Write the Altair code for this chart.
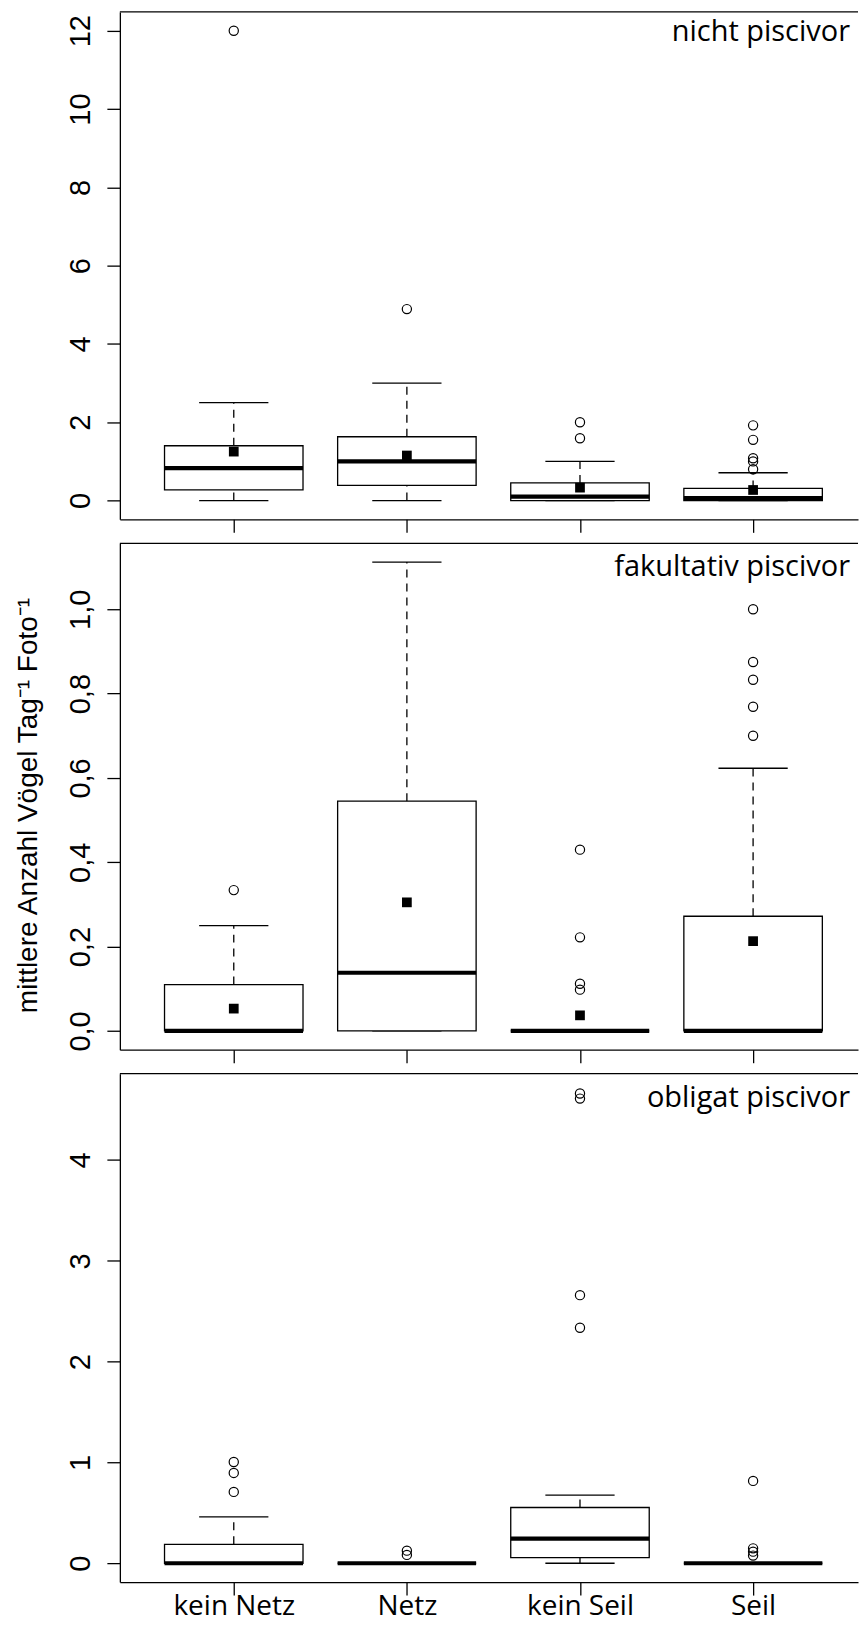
import altair as alt
import pandas as pd

categories = ["kein Netz", "Netz", "kein Seil", "Seil"]
positions = [1, 2, 3, 4]

# ---- panel 1: nicht piscivor ----
p1_q1 = [0.27, 0.39, 0.0, 0.0]
p1_med = [0.83, 1.0, 0.10, 0.06]
p1_q3 = [1.40, 1.63, 0.45, 0.31]
p1_wlo = [0.0, 0.0, 0.0, 0.0]
p1_whi = [2.50, 3.0, 1.0, 0.71]
p1_mean = [1.25, 1.15, 0.33, 0.27]
p1_out_pos = [1, 2, 3, 3, 4, 4, 4, 4, 4]
p1_out_val = [12.0, 4.89, 2.0, 1.59, 1.92, 1.55, 1.08, 1.0, 0.80]

# ---- panel 2: fakultativ piscivor ----
p2_q1 = [0.0, 0.0, 0.0, 0.0]
p2_med = [0.0, 0.138, 0.0, 0.0]
p2_q3 = [0.11, 0.545, 0.0, 0.272]
p2_wlo = [0.0, 0.0, 0.0, 0.0]
p2_whi = [0.25, 1.112, 0.0, 0.623]
p2_mean = [0.053, 0.305, 0.037, 0.213]
p2_out_pos = [1, 3, 3, 3, 3, 4, 4, 4, 4, 4]
p2_out_val = [0.334, 0.43, 0.222, 0.112, 0.098, 1.0, 0.875, 0.833, 0.769, 0.70]

# ---- panel 3: obligat piscivor ----
p3_q1 = [0.0, 0.0, 0.056, 0.0]
p3_med = [0.0, 0.0, 0.244, 0.0]
p3_q3 = [0.188, 0.0, 0.553, 0.0]
p3_wlo = [0.0, 0.0, 0.0, 0.0]
p3_whi = [0.461, 0.0, 0.675, 0.0]
p3_out_pos = [1, 1, 1, 2, 2, 3, 3, 3, 3, 4, 4, 4, 4]
p3_out_val = [1.005, 0.896, 0.708, 0.125, 0.083, 4.66, 4.61, 2.66, 2.336, 0.817, 0.148, 0.115, 0.076]

panel_titles = ["nicht piscivor", "fakultativ piscivor", "obligat piscivor"]
y_title = "mittlere Anzahl Vögel Tag⁻¹ Foto⁻¹"

W = 739
XDOM = [0.342, 4.606]
xscale = alt.Scale(domain=XDOM, nice=False, zero=False)

label_expr_x = "['" + "','".join(categories) + "'][datum.value - 1]"


def make_panel(q1, med, q3, wlo, whi, mean, out_pos, out_val, ydom, yvals, ylabel_expr,
               title, height, title_y, show_xlabels, show_ytitle):
    stats = pd.DataFrame({"pos": positions, "q1": q1, "med": med, "q3": q3,
                          "wlo": wlo, "whi": whi})
    outl = pd.DataFrame({"pos": out_pos, "value": out_val})

    if show_xlabels:
        xaxis = alt.Axis(values=positions, tickSize=13, labelExpr=label_expr_x,
                         labelFont="Open Sans", labelFontSize=28, labelPadding=19,
                         labelBaseline="alphabetic", labelColor="black",
                         labelOverlap=False, labelFlush=False, grid=False, title=None,
                         domainColor="black", domainWidth=1.3, tickColor="black",
                         tickWidth=1.3)
    else:
        xaxis = alt.Axis(values=positions, tickSize=13, labels=False, grid=False,
                         title=None, domainColor="black", domainWidth=1.3,
                         tickColor="black", tickWidth=1.3)

    yscale = alt.Scale(domain=ydom, nice=False, zero=False)
    yaxis_kw = dict(values=yvals, tickSize=13, labelAngle=270, labelAlign="center",
                    labelBaseline="alphabetic", labelPadding=17,
                    labelFont="Liberation Sans", labelFontSize=29, labelColor="black",
                    labelOverlap=False, labelFlush=False, grid=False,
                    domainColor="black", domainWidth=1.3, tickColor="black",
                    tickWidth=1.3, labelExpr=ylabel_expr)
    if show_ytitle:
        yaxis = alt.Axis(title=y_title, titleX=-83, titleY=262, titleAngle=270,
                         titleAlign="center", titleBaseline="alphabetic",
                         titleFont="Liberation Sans", titleFontSize=28,
                         titleFontWeight="normal", titleColor="black", **yaxis_kw)
    else:
        yaxis = alt.Axis(title=None, **yaxis_kw)

    def X(f):
        return alt.X(f"{f}:Q", scale=xscale, axis=xaxis)

    def Y(f):
        return alt.Y(f"{f}:Q", scale=yscale, axis=yaxis)

    base = alt.Chart(stats).transform_calculate(
        lo="datum.pos - 0.4", hi="datum.pos + 0.4",
        clo="datum.pos - 0.2", chi="datum.pos + 0.2")

    up_wh = base.mark_rule(color="black", strokeWidth=1.3, strokeDash=[8, 6]).encode(
        x=X("pos"), y=Y("q3"), y2="whi")
    lo_wh = base.mark_rule(color="black", strokeWidth=1.3, strokeDash=[8, 6]).encode(
        x=X("pos"), y=Y("wlo"), y2="q1")
    cap_hi = base.mark_rule(color="black", strokeWidth=1.3).encode(
        x=X("clo"), x2="chi", y=Y("whi"))
    cap_lo = base.mark_rule(color="black", strokeWidth=1.3).encode(
        x=X("clo"), x2="chi", y=Y("wlo"))
    box = base.mark_rect(fill="white", stroke="black", strokeWidth=1.3).encode(
        x=X("lo"), x2="hi", y=Y("q1"), y2="q3")
    median = base.mark_rule(color="black", strokeWidth=4.2).encode(
        x=X("lo"), x2="hi", y=Y("med"))
    outs = alt.Chart(outl).mark_point(shape="circle", filled=False, size=85,
                                      color="black", strokeWidth=1.2, opacity=1).encode(
        x=X("pos"), y=Y("value"))

    one = pd.DataFrame({"t": [title]})
    border_top = alt.Chart(one).mark_rule(color="black", strokeWidth=1.3).encode(
        x=alt.value(0), x2=alt.value(W), y=alt.value(0))
    pin = alt.Chart(one).mark_rule(color="white", strokeWidth=1).encode(
        x=alt.value(-118.7), x2=alt.value(-1), y=alt.value(0.5))
    ttl = alt.Chart(one).mark_text(align="right", baseline="alphabetic",
                                   font="Open Sans", fontSize=29, color="black").encode(
        x=alt.value(731), y=alt.value(title_y), text="t:N")

    layers = [pin, up_wh, lo_wh, cap_hi, cap_lo, box, median]
    if mean is not None:
        mdf = pd.DataFrame({"pos": positions, "mean": mean})
        means = alt.Chart(mdf).mark_square(size=95, color="black", filled=True,
                                           opacity=1).encode(x=X("pos"), y=Y("mean"))
        layers.append(means)
    layers += [outs, border_top, ttl]
    return alt.layer(*layers).properties(width=W, height=height)


panel1 = make_panel(p1_q1, p1_med, p1_q3, p1_wlo, p1_whi, p1_mean, p1_out_pos, p1_out_val,
                    [-0.48, 12.48], [0, 2, 4, 6, 8, 10, 12], "format(datum.value, 'd')",
                    panel_titles[0], 508, 29, False, False)
panel2 = make_panel(p2_q1, p2_med, p2_q3, p2_wlo, p2_whi, p2_mean, p2_out_pos, p2_out_val,
                    [-0.0445, 1.1565], [0, 0.2, 0.4, 0.6, 0.8, 1.0],
                    "replace(format(datum.value, '.1f'), '.', ',')",
                    panel_titles[1], 507, 33, False, True)
panel3 = make_panel(p3_q1, p3_med, p3_q3, p3_wlo, p3_whi, None, p3_out_pos, p3_out_val,
                    [-0.187, 4.857], [0, 1, 2, 3, 4], "format(datum.value, 'd')",
                    panel_titles[2], 509, 33, True, False)

chart = alt.vconcat(panel1, panel2, panel3, spacing=9).resolve_scale(
    y="independent").properties(
    padding={"left": 0, "right": 0, "top": 10, "bottom": 0},
    background="white"
).configure_view(stroke=None)

chart.save("out.html", embed_options={"renderer": "svg", "actions": False})
